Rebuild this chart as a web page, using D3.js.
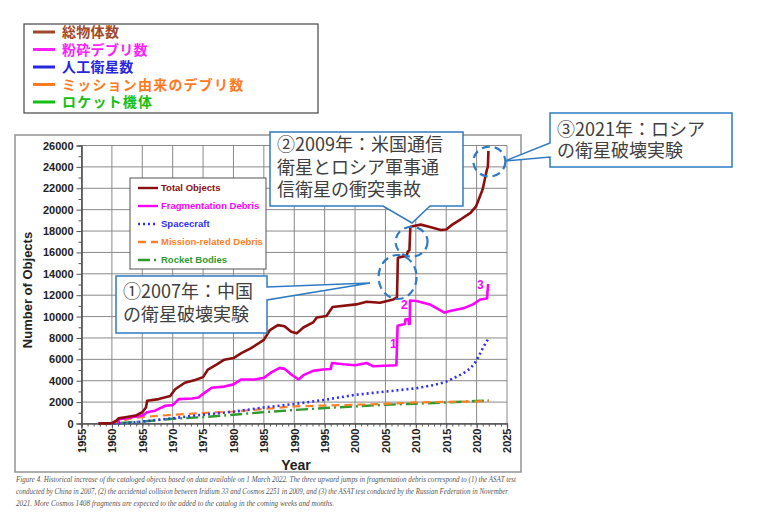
<!DOCTYPE html>
<html>
<head>
<meta charset="utf-8">
<script src="https://cdn.jsdelivr.net/npm/d3@7"></script>
<style>
  body { margin: 0; background: #fff; }
  svg { display: block; }
</style>
</head>
<body>
<div id="chart"></div>
<script>
// ---- data (year, number of objects) ----
const totalObjects = [
  [1957.8, 0], [1959, 10], [1960, 30], [1960.8, 300], [1961.1, 490], [1962.2, 580], [1963.9, 740],
  [1965, 1050], [1965.6, 1500], [1965.8, 2120], [1967.7, 2280], [1969.6, 2580], [1970.4, 3200],
  [1972, 3815], [1973.7, 4060], [1975, 4340], [1975.8, 5050], [1977.2, 5510], [1978.5, 5970],
  [1980, 6120], [1981.3, 6580], [1982.9, 7050], [1985, 7815], [1986, 8740], [1987.3, 9200],
  [1988.4, 9100], [1989.5, 8580], [1990.4, 8430], [1991.5, 8980], [1993.1, 9450], [1993.7, 9910],
  [1995.3, 10060], [1996.3, 10890], [2000.2, 11140], [2001.9, 11380], [2004.1, 11290], [2006.3, 11600],
  [2006.9, 11800], [2007.05, 15500], [2008.5, 15700], [2008.7, 16100], [2008.95, 16200], [2009.1, 18400],
  [2010.8, 18600], [2012.5, 18350], [2014.1, 18100], [2015, 18150], [2016, 18600], [2017.4, 19100],
  [2019, 19700], [2019.9, 20300], [2021, 21900], [2021.7, 23750], [2021.85, 24000], [2021.95, 25500]
];
const fragmentationDebris = [
  [1961, 0], [1961.2, 400], [1963.3, 580], [1965, 740], [1965.8, 1050], [1967.1, 1200], [1968.8, 1660],
  [1970, 1720], [1971, 2280], [1973.2, 2340], [1974.2, 2430], [1975.3, 2890], [1976.4, 3350],
  [1978.5, 3450], [1980, 3660], [1981.3, 4120], [1983.5, 4120], [1985, 4280], [1986.3, 4800],
  [1987.6, 5200], [1988.4, 5110], [1989.5, 4580], [1990.3, 4280], [1990.7, 4120], [1991.5, 4520],
  [1993.1, 4920], [1994.7, 5050], [1996, 5100], [1996.2, 5660], [1998.1, 5540], [2000, 5450],
  [2001.9, 5660], [2003, 5350], [2006.8, 5450], [2007, 9140], [2008.2, 9300], [2008.3, 9750],
  [2008.8, 9750], [2008.85, 9300], [2009, 9300], [2009.05, 11510], [2010.1, 11450], [2012.3, 11140],
  [2014.7, 10370], [2015.6, 10520], [2017.8, 10770], [2019.4, 11140], [2020.6, 11600], [2021.7, 11690],
  [2021.9, 13050]
];
const spacecraft = [
  [1957.8, 0], [1962, 20], [1965, 180], [1970, 490], [1975, 830], [1980, 1100], [1985, 1500],
  [1990, 1820], [1995, 2215], [2000, 2680], [2005, 2985], [2010, 3290], [2013, 3600], [2015, 3910],
  [2017.8, 4680], [2019, 5160], [2020, 5900], [2021.1, 7140], [2022, 8000]
];
const missionDebris = [
  [1957.8, 0], [1960, 30], [1961, 180], [1963.3, 490], [1965, 600], [1970, 820], [1975, 980],
  [1980, 1120], [1985, 1360], [1990, 1600], [1995, 1680], [2000, 1750], [2005, 1830], [2010, 1970],
  [2015, 2020], [2020, 2060], [2022, 2120]
];
const rocketBodies = [
  [1957.8, 0], [1960, 0], [1965, 180], [1970, 440], [1975, 600], [1980, 820], [1985, 1060],
  [1990, 1260], [1995, 1450], [2000, 1600], [2005, 1750], [2010, 1850], [2015, 1970], [2020, 2100],
  [2022, 2150]
];

const yearTicks = d3.range(1955, 2026, 5);
const countTicks = d3.range(0, 26001, 2000);

const seriesNames = ["Total Objects", "Fragmentation Debris", "Spacecraft", "Mission-related Debris", "Rocket Bodies"];
const jpNames = ["総物体数", "粉砕デブリ数", "人工衛星数", "ミッション由来のデブリ数", "ロケット機体"];

// jump markers (1)(2)(3) on fragmentation debris: [label, year, value]
const jumpLabels = [["1", 2006.3, 7100], ["2", 2008.1, 10700], ["3", 2020.6, 12600]];

// dashed ellipses around the jumps of total objects: [year, value]
const jumpCircles = [[2007, 13700], [2009.3, 17000], [2022.1, 24500]];

const callouts = [
  ["①2007年：中国", "の衛星破壊実験"],
  ["②2009年：米国通信", "衛星とロシア軍事通", "信衛星の衝突事故"],
  ["③2021年：ロシア", "の衛星破壊実験"]
];

const captionLines = [
  "Figure 4. Historical increase of the cataloged objects based on data available on 1 March 2022. The three upward jumps in fragmentation debris correspond to (1) the ASAT test",
  "conducted by China in 2007, (2) the accidental collision between Iridium 33 and Cosmos 2251 in 2009, and (3) the ASAT test conducted by the Russian Federation in November",
  "2021. More Cosmos 1408 fragments are expected to the added to the catalog in the coming weeks and months."
];

// ---- styles ----
const seriesData = [totalObjects, fragmentationDebris, spacecraft, missionDebris, rocketBodies];
const lineColors = ["#8b0f0f", "#ff00ff", "#2f2fff", "#ff7f27", "#2f9a2f"];
const lineDash = [null, null, "2,3", "8,5", "12,4,2,4"];
const lineWidth = [2.6, 2.6, 2.6, 2.2, 2.4];
const jpColors = ["#a0482a", "#ff22ff", "#2727e0", "#ff7a1f", "#13c013"];
const calloutBlue = "#2e7bc4";

const W = 768, H = 520;
const svg = d3.select("#chart").append("svg")
  .attr("width", W).attr("height", H)
  .style("font-family", "'Liberation Sans', Arial, sans-serif");

const x = d3.scaleLinear().domain([1955, 2025]).range([81.5, 507]);
const y = d3.scaleLinear().domain([0, 26000]).range([423.5, 145.5]);

// outer frame of the original figure
svg.append("rect")
  .attr("x", 15).attr("y", 135).attr("width", 506).attr("height", 337)
  .attr("fill", "#fff").attr("stroke", "#9a9a9a").attr("stroke-width", 1.6);

// grid
const grid = svg.append("g").attr("stroke", "#8a8a8a").attr("stroke-width", 1);
grid.selectAll(".gx").data(yearTicks).enter().append("line")
  .attr("x1", d => x(d)).attr("x2", d => x(d))
  .attr("y1", y(26000)).attr("y2", y(0));
grid.selectAll(".gy").data(countTicks).enter().append("line")
  .attr("x1", x(1955)).attr("x2", x(2025))
  .attr("y1", d => y(d)).attr("y2", d => y(d));

// axes
const yAxis = svg.append("g").attr("transform", `translate(${x(1955)},0)`)
  .call(d3.axisLeft(y).tickValues(countTicks).tickSize(5).tickPadding(3).tickFormat(d3.format("d")));
svg.append("g").attr("transform", `translate(${x(1955)},0)`)
  .call(d3.axisLeft(y).tickValues(d3.range(1000, 26000, 2000)).tickSize(3).tickFormat(""));

const xAxis = svg.append("g").attr("transform", `translate(0,${y(0)})`)
  .call(d3.axisBottom(x).tickValues(yearTicks).tickSize(5).tickFormat(d3.format("d")));
svg.append("g").attr("transform", `translate(0,${y(0)})`)
  .call(d3.axisBottom(x).tickValues(d3.range(1955, 2026, 1)).tickSize(3).tickFormat(""));

svg.selectAll(".domain").attr("stroke", "#555").attr("stroke-width", 1.2);
svg.selectAll(".tick line").attr("stroke", "#555");
yAxis.selectAll("text")
  .attr("font-size", 11).attr("font-weight", "bold").attr("fill", "#222");
xAxis.selectAll("text")
  .attr("font-size", 11).attr("font-weight", "bold").attr("fill", "#222")
  .attr("text-anchor", "end")
  .attr("transform", "rotate(-90)")
  .attr("x", -5).attr("y", 0).attr("dy", "0.35em");

svg.append("text")
  .attr("transform", `translate(32,290) rotate(-90)`)
  .attr("text-anchor", "middle")
  .attr("font-size", 13).attr("font-weight", "bold").attr("fill", "#222")
  .text("Number of Objects");
svg.append("text")
  .attr("x", 296).attr("y", 470).attr("text-anchor", "middle")
  .attr("font-size", 14).attr("font-weight", "bold").attr("fill", "#222")
  .text("Year");

// series
const line = d3.line().x(d => x(d[0])).y(d => y(d[1]));
const plot = svg.append("g");
// draw the small series first so the big ones sit on top
[4, 3, 2, 1, 0].forEach(i => {
  plot.append("path")
    .datum(seriesData[i])
    .attr("d", line)
    .attr("fill", "none")
    .attr("stroke", lineColors[i])
    .attr("stroke-width", lineWidth[i])
    .attr("stroke-dasharray", lineDash[i])
    .attr("stroke-linejoin", "round");
});

plot.selectAll(".jump").data(jumpLabels).enter().append("text")
  .attr("x", d => x(d[1])).attr("y", d => y(d[2]))
  .attr("text-anchor", "middle")
  .attr("font-size", 12).attr("font-weight", "bold").attr("fill", "#ff00ff")
  .text(d => d[0]);

// inner English legend
const leg = svg.append("g");
leg.append("rect")
  .attr("x", 130).attr("y", 178).attr("width", 136).attr("height", 91)
  .attr("fill", "#fff").attr("stroke", "#555").attr("stroke-width", 1);
seriesNames.forEach((name, i) => {
  const ly = 188 + i * 18;
  leg.append("line")
    .attr("x1", 138).attr("x2", 158).attr("y1", ly).attr("y2", ly)
    .attr("stroke", lineColors[i]).attr("stroke-width", 2.4)
    .attr("stroke-dasharray", lineDash[i]);
  leg.append("text")
    .attr("x", 161).attr("y", ly).attr("dy", "0.35em")
    .attr("font-size", 9.5).attr("font-weight", "bold").attr("fill", lineColors[i])
    .text(name);
});

// dashed ellipses
svg.selectAll(".ring").data(jumpCircles).enter().append("ellipse")
  .attr("cx", d => x(d[0])).attr("cy", d => y(d[1]))
  .attr("rx", (d, i) => i === 0 ? 19 : 16)
  .attr("ry", (d, i) => i === 0 ? 22 : 15)
  .attr("fill", "none").attr("stroke", calloutBlue)
  .attr("stroke-width", 2.2).attr("stroke-dasharray", "8,5");

// callout boxes (rectangle + pointer)
const calloutShapes = [
  "M116,276 H267 V287 L370,283 L267,300 V333 H116 Z",
  "M270,132 H463 V206 H430 L412,223 L383,206 H270 Z",
  "M550,113 H732 V167 H550 V157 L505,161 L550,143 Z"
];
const calloutText = [[123, 298, 23], [277, 151, 22.5], [557, 136, 21]];
calloutShapes.forEach((p, i) => {
  svg.append("path").attr("d", p)
    .attr("fill", "#fff").attr("stroke", calloutBlue).attr("stroke-width", 1.5);
  const t = svg.append("text")
    .attr("font-family", "'Noto Sans CJK JP', sans-serif")
    .attr("font-size", 18).attr("fill", "#404040");
  callouts[i].forEach((s, j) => {
    t.append("tspan")
      .attr("x", calloutText[i][0])
      .attr("y", calloutText[i][1] + j * calloutText[i][2])
      .text(s);
  });
});

// Japanese legend at the top
const jleg = svg.append("g");
jleg.append("rect")
  .attr("x", 24).attr("y", 24).attr("width", 294).attr("height", 89)
  .attr("fill", "#fff").attr("stroke", "#444").attr("stroke-width", 1.2);
jpNames.forEach((name, i) => {
  const ly = 32 + i * 17.5;
  jleg.append("line")
    .attr("x1", 33).attr("x2", 55).attr("y1", ly).attr("y2", ly)
    .attr("stroke", jpColors[i]).attr("stroke-width", 3);
  jleg.append("text")
    .attr("x", 62).attr("y", ly).attr("dy", "0.38em")
    .attr("font-family", "'Noto Sans CJK JP', sans-serif")
    .attr("font-size", 14).attr("font-weight", "bold")
    .attr("letter-spacing", i === 3 || i === 4 ? 1.2 : 0.3)
    .attr("fill", jpColors[i])
    .text(name);
});

// caption
const cap = svg.append("g")
  .attr("font-family", "'Liberation Serif', serif")
  .attr("font-style", "italic")
  .attr("font-size", 8).attr("fill", "#555");
const capWidths = [500, 492, 318];
captionLines.forEach((s, i) => {
  cap.append("text")
    .attr("x", 16).attr("y", 482 + i * 12)
    .attr("textLength", capWidths[i]).attr("lengthAdjust", "spacingAndGlyphs")
    .text(s);
});
</script>
</body>
</html>
